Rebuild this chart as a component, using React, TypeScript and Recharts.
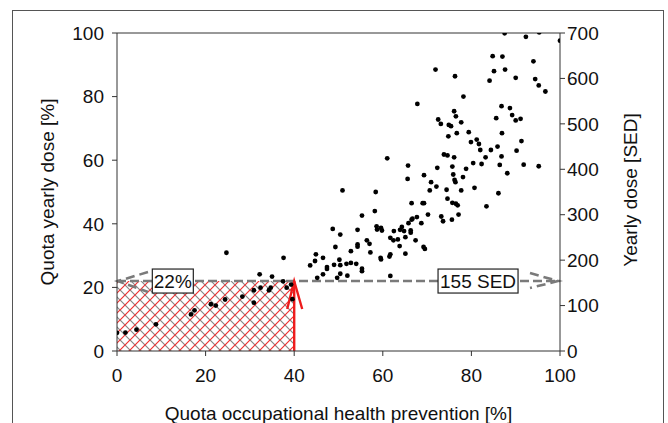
import React from 'react';
import { ScatterChart, Scatter, XAxis, YAxis, ReferenceArea, ReferenceLine, ReferenceDot } from 'recharts';

const prevention = [
  0, 1.9, 4.4, 8.8, 16.7, 17.5, 21.2, 22.3, 24.4, 24.7, 28.3, 30.9, 30.9, 32.2, 32.4, 34.3, 34.7, 35.0, 37.6, 37.5, 38.3, 39.3, 39.6,
  43.6, 44.7, 44.9, 45.2, 46.5, 46.5, 47.4, 47.4, 48.7, 49.0,
  49.3, 49.7, 50.4, 50.2, 50.4, 50.4, 50.9, 51.8, 52.0, 52.8,
  52.8, 54.0, 54.3, 54.3, 54.3, 55.3, 55.3, 55.3, 56.4, 57.0,
  57.2, 58.2, 58.4, 58.6, 58.7, 59.5, 59.6, 59.6, 59.8, 61.0,
  61.5, 61.7, 61.7, 61.7, 62.4, 62.5, 63.4, 63.8, 63.9, 64.3,
  64.8, 65.1, 65.1, 65.6, 65.7, 65.8, 66.3, 66.3, 66.5, 66.5,
  66.7, 67.4, 67.7, 67.8, 68.7, 69.0, 69.3, 69.2, 69.5, 69.3,
  70.2, 70.6, 70.9, 71.9, 72.1, 72.3, 72.5, 73.1, 73.2, 73.6,
  73.8, 74.4, 74.6, 74.6, 74.8, 74.9, 75.4, 75.6, 75.7, 75.7,
  75.9, 76.1, 76.1, 76.3, 76.2, 76.4, 76.5, 76.5, 76.7, 76.9,
  77.1, 77.7, 77.7, 78.1, 78.2, 78.8, 79.4, 79.9, 80.4, 80.7,
  81.2, 81.7, 82.0, 82.3, 83.2, 83.4, 84.1, 84.4, 84.8, 85.1,
  85.6, 85.9, 86.1, 86.4, 86.8, 86.8, 86.9, 87.0, 87.5, 87.6,
  88.1, 88.7, 89.2, 90.0, 90.0, 90.2, 91.1, 91.3, 91.8, 92.3,
  94.0, 94.4, 95.2, 95.2, 95.3, 96.7, 100,
];

const doseQuota = [
  5.7, 5.8, 6.7, 8.4, 11.5, 12.8, 14.7, 14.3, 16.2, 30.9, 17.1, 19.1, 15.2, 24.1, 19.9, 19.1, 19.9, 23.4, 29.3, 21.9, 19.9, 20.9, 16.3,
  26.9, 28.3, 30.4, 23.0, 29.3, 24.1, 26.4, 25.8, 38.4, 27.1,
  32.7, 23.0, 36.6, 28.7, 27.0, 24.3, 50.5, 27.4, 23.7, 31.4,
  27.7, 27.4, 38.1, 33.5, 32.8, 42.6, 25.9, 25.1, 34.8, 33.7,
  31.0, 44.0, 50.0, 39.2, 38.2, 29.3, 28.8, 38.7, 37.9, 60.6,
  29.7, 30.4, 23.6, 35.6, 34.8, 37.7, 35.1, 33.0, 38.1, 39.0,
  37.7, 35.8, 30.6, 54.1, 58.3, 40.2, 37.9, 37.2, 46.5, 41.3,
  41.6, 34.8, 42.1, 77.7, 40.2, 46.5, 46.5, 32.7, 32.1, 55.3,
  42.9, 50.5, 53.1, 88.5, 51.7, 57.6, 72.8, 71.4, 42.3, 40.8,
  61.8, 50.7, 61.5, 47.9, 67.5, 71.1, 70.7, 41.3, 58.0, 46.6,
  55.5, 75.4, 60.9, 86.4, 53.8, 53.1, 73.8, 46.3, 68.5, 45.8,
  42.9, 71.9, 50.5, 54.7, 80.0, 57.3, 68.8, 65.7, 59.1, 51.3,
  66.5, 65.1, 63.2, 58.8, 60.9, 45.5, 85.0, 63.2, 92.7, 88.0,
  73.2, 64.3, 49.6, 58.5, 77.0, 61.2, 68.5, 92.6, 99.9, 88.5,
  55.9, 76.4, 74.2, 85.9, 72.5, 63.0, 73.0, 66.0, 58.6, 98.8,
  91.1, 85.5, 83.5, 58.1, 100.2, 81.6, 97.6,
];

const xTicks = [0, 20, 40, 60, 80, 100];
const leftTicks = [0, 20, 40, 60, 80, 100];
const rightTicks = [0, 100, 200, 300, 400, 500, 600, 700];

const thresholdQuota = 22;
const thresholdPrevention = 40;
const percentLabel = '22%';
const percentLabelX = 12.6;
const sedLabel = '155 SED';
const sedLabelX = 81.5;

const xTitle = 'Quota occupational health prevention [%]';
const leftTitle = 'Quota yearly dose [%]';
const rightTitle = 'Yearly dose [SED]';

const points = prevention.map((x, i) => ({ x, y: doseQuota[i] }));

const FONT = '"Liberation Sans", Arial, sans-serif';
const FS = 19;
const AXIS = '#333';
const GRAY = '#7a7a7a';
const RED = '#ee1c1c';

const Dot = (p: any) => <circle cx={p.cx} cy={p.cy} r={2.4} fill="#000" />;

const grayArrowShape = (p: any) => {
  const { x1, y1, x2, y2 } = p;
  return (
    <g>
      <line x1={x1} y1={y1} x2={x2} y2={y2} stroke={GRAY} strokeWidth={2.6} strokeDasharray="9 4" />
      <path d={`M${x1 + 31},${y1 - 9} L${x1 + 1},${y1} L${x1 + 31},${y1 + 11}`} fill="none" stroke={GRAY} strokeWidth={2.6} strokeDasharray="9 5" />
      <path d={`M${x2 - 30},${y2 - 8} L${x2 - 2},${y2} L${x2 - 30},${y2 + 7}`} fill="none" stroke={GRAY} strokeWidth={2.6} strokeDasharray="9 5" />
    </g>
  );
};

const redArrowShape = (p: any) => {
  const { x1, y1, x2, y2 } = p;
  const top = Math.min(y1, y2);
  const bottom = Math.max(y1, y2);
  return (
    <g>
      <line x1={x1} y1={bottom} x2={x2} y2={top} stroke={RED} strokeWidth={2.4} />
      <path d={`M${x1 - 7},${top + 28} L${x1},${top} L${x1 + 8},${top + 28}`} fill="none" stroke={RED} strokeWidth={2.4} />
    </g>
  );
};

const boxLabel = (text: string, w: number) => (p: any) => (
  <g>
    <rect x={p.cx - w / 2} y={p.cy - 12} width={w} height={24} fill="#fff" stroke="#222" strokeWidth={1.2} />
    <text x={p.cx} y={p.cy + 7} textAnchor="middle" fontFamily={FONT} fontSize={FS} fill="#111">{text}</text>
  </g>
);

export default function App() {
  return (
    <div style={{ position: 'absolute', left: 0, top: 0, width: 668, height: 423, overflow: 'hidden', background: '#fff' }}>
      <div style={{ position: 'absolute', left: 12, top: 10, width: 652, height: 480, border: '1.5px solid #555', boxSizing: 'border-box' }} />
      <div style={{ position: 'absolute', left: 0, top: 0 }}>
        <ScatterChart width={668} height={423} margin={{ top: 33, right: 38, bottom: 42, left: 57 }}>
          <defs>
            <pattern id="hatch" patternUnits="userSpaceOnUse" width={10} height={10}>
              <path d="M0,0 L10,10 M-2,8 L2,12 M8,-2 L12,2" stroke="#888" strokeWidth={1.2} />
              <path d="M0,10 L10,0 M-2,2 L2,-2 M8,12 L12,8" stroke="#ee3333" strokeWidth={1.2} />
            </pattern>
          </defs>
          <XAxis
            type="number"
            dataKey="x"
            domain={[0, 100]}
            ticks={xTicks}
            allowDataOverflow
            height={30}
            stroke={AXIS}
            tickSize={5}
            tickMargin={13}
            tick={{ fill: '#111', fontSize: FS, fontFamily: FONT }}
            label={{
              content: (lp: any) => (
                <text x={lp.viewBox.x + lp.viewBox.width / 2} y={lp.viewBox.y + 69} textAnchor="middle" fontFamily={FONT} fontSize={FS} fill="#111">{xTitle}</text>
              ),
            }}
          />
          <YAxis
            yAxisId="left"
            type="number"
            dataKey="y"
            domain={[0, 100]}
            ticks={leftTicks}
            allowDataOverflow
            width={60}
            stroke={AXIS}
            tickSize={5}
            tickMargin={8}
            tick={{ fill: '#111', fontSize: FS, fontFamily: FONT }}
            label={{
              content: (lp: any) => {
                const cx = lp.viewBox.x - 10;
                const cy = lp.viewBox.y + lp.viewBox.height / 2;
                return (
                  <text x={cx} y={cy} transform={`rotate(-90, ${cx}, ${cy})`} textAnchor="middle" dominantBaseline="central" fontFamily={FONT} fontSize={FS} fill="#111">{leftTitle}</text>
                );
              },
            }}
          />
          <YAxis
            yAxisId="right"
            orientation="right"
            type="number"
            domain={[0, 700]}
            ticks={rightTicks}
            allowDataOverflow
            width={70}
            stroke={AXIS}
            tickSize={5}
            tickMargin={2}
            tick={{ fill: '#111', fontSize: FS, fontFamily: FONT }}
            label={{
              content: (lp: any) => {
                const cx = lp.viewBox.x + 70.5;
                const cy = lp.viewBox.y + lp.viewBox.height / 2 - 2;
                return (
                  <text x={cx} y={cy} transform={`rotate(-90, ${cx}, ${cy})`} textAnchor="middle" dominantBaseline="central" fontFamily={FONT} fontSize={FS} fill="#111">{rightTitle}</text>
                );
              },
            }}
          />
          <ReferenceArea yAxisId="left" x1={0} x2={thresholdPrevention} y1={0} y2={thresholdQuota} fill="url(#hatch)" fillOpacity={1} stroke="none" />
          <ReferenceLine yAxisId="left" y={100} stroke={AXIS} strokeWidth={1} />
          <Scatter yAxisId="left" data={points} shape={Dot} isAnimationActive={false} />
          <ReferenceLine
            yAxisId="left"
            segment={[{ x: 0, y: thresholdQuota }, { x: 100, y: thresholdQuota }]}
            shape={grayArrowShape}
          />
          <ReferenceLine
            yAxisId="left"
            segment={[{ x: thresholdPrevention, y: 0 }, { x: thresholdPrevention, y: thresholdQuota }]}
            shape={redArrowShape}
          />
          <ReferenceDot yAxisId="left" x={percentLabelX} y={thresholdQuota} r={0} shape={boxLabel(percentLabel, 41)} />
          <ReferenceDot yAxisId="left" x={sedLabelX} y={thresholdQuota} r={0} shape={boxLabel(sedLabel, 80)} />
        </ScatterChart>
      </div>
    </div>
  );
}
